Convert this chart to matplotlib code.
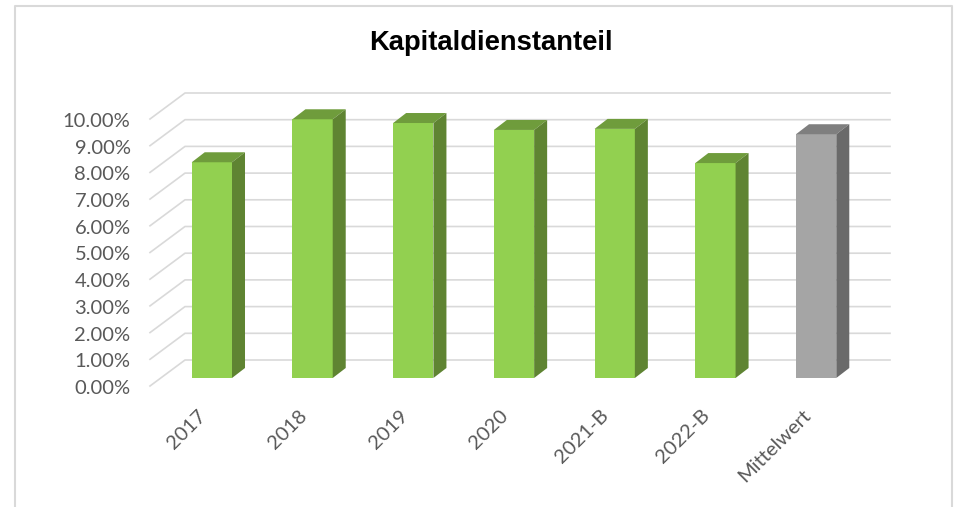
#Kapitaldienstanteil 3D-look bar chart, drawn as oblique projection on a plain axes
import matplotlib
matplotlib.use("Agg")
import matplotlib.pyplot as plt
from matplotlib.lines import Line2D
from matplotlib.patches import Polygon
from matplotlib.transforms import ScaledTranslation

categories = ["2017", "2018", "2019", "2020", "2021-B", "2022-B", "Mittelwert"]
valuesPct = [8.08, 9.69, 9.55, 9.29, 9.33, 8.05, 9.13]
tickValsPct = [0, 1, 2, 3, 4, 5, 6, 7, 8, 9, 10]
tickLabels = ["0.00%", "1.00%", "2.00%", "3.00%", "4.00%", "5.00%", "6.00%", "7.00%", "8.00%", "9.00%", "10.00%"]

W, H = 957., 507.
xUnit = 100.7  #pixels per category
yUnit = 26.7   #pixels per percent

#Depth offsets (in pixels) of wall and bar faces behind the axis plane
wallDx, wallDy = 35. / xUnit, 26. / yUnit
barDx, barDy = 11.5 / xUnit, 8. / yUnit
sideDx, sideDy = 13. / xUnit, 10. / yUnit
barWidth = 0.4

gridCol = "#d9d9d9"
textCol = "#595959"

fig = plt.figure(figsize=(W / 100, H / 100), dpi=100)
ax = fig.add_axes([150 / W, (H - 386) / H, 705 / W, 267 / H])
ax.set_xlim(-0.5, 6.5)
ax.set_ylim(0, 10)
for s in ax.spines.values():
  s.set_visible(False)
ax.patch.set_visible(False)

#
# Gridlines (back wall and the floor/wall diagonals)
#

for v in tickValsPct:
  ax.plot([-0.5, -0.5 + wallDx, 6.5 + wallDx], [v, v + wallDy, v + wallDy], color=gridCol, lw=1.2, clip_on=False, zorder=1)

#
# Bars
#

for i, v in enumerate(valuesPct):
  isMean = categories[i] == "Mittelwert"
  front, top, side = ("#a5a5a5", "#7f7f7f", "#6a6a6a") if isMean else ("#92d050", "#6f9c3c", "#5f8432")
  x0 = i - barWidth / 2 + barDx
  x1 = x0 + barWidth
  ax.bar(x0 + barWidth / 2, v, barWidth, bottom=barDy, color=front, clip_on=False, zorder=3)
  yb, yt = barDy, barDy + v
  ax.add_patch(Polygon([(x0, yt), (x1, yt), (x1 + sideDx, yt + sideDy), (x0 + sideDx, yt + sideDy)], closed=True, fc=top, ec="none", clip_on=False, zorder=3))
  ax.add_patch(Polygon([(x1, yb), (x1 + sideDx, yb + sideDy), (x1 + sideDx, yt + sideDy), (x1, yt)], closed=True, fc=side, ec="none", clip_on=False, zorder=3))

#
# Labels
#

ax.set_yticks(tickValsPct)
ax.set_yticklabels(tickLabels, fontfamily="Lato", fontsize=14.5, color=textCol)
ax.tick_params(axis="y", length=0, pad=14)
ax.set_xticks(range(len(categories)))
ax.set_xticklabels(categories, fontfamily="Lato", fontsize=14.5, color=textCol, rotation=45, ha="right", va="top", rotation_mode="anchor")
ax.tick_params(axis="x", length=0, pad=15)
shift = ScaledTranslation(-3 / 100., 0, fig.dpi_scale_trans)
for lab in ax.get_xticklabels():
  lab.set_transform(lab.get_transform() + shift)
yshift = ScaledTranslation(0, -1 / 100., fig.dpi_scale_trans)
for lab in ax.get_yticklabels():
  lab.set_transform(lab.get_transform() + yshift)

fig.text(490.5 / W, 1 - 43 / H, "Kapitaldienstanteil", fontfamily="Liberation Sans", fontweight="bold", fontsize=19.7, color="black", ha="center", va="center")

#
# Chart area frame (bottom edge is cut off in the original)
#

fX = [14.5 / W, 14.5 / W, 952 / W, 952 / W]
fY = [0, 1 - 6 / H, 1 - 6 / H, 0]
fig.add_artist(Line2D(fX, fY, color=gridCol, lw=1.5, transform=fig.transFigure))

fig.savefig("out.png", dpi=100)
